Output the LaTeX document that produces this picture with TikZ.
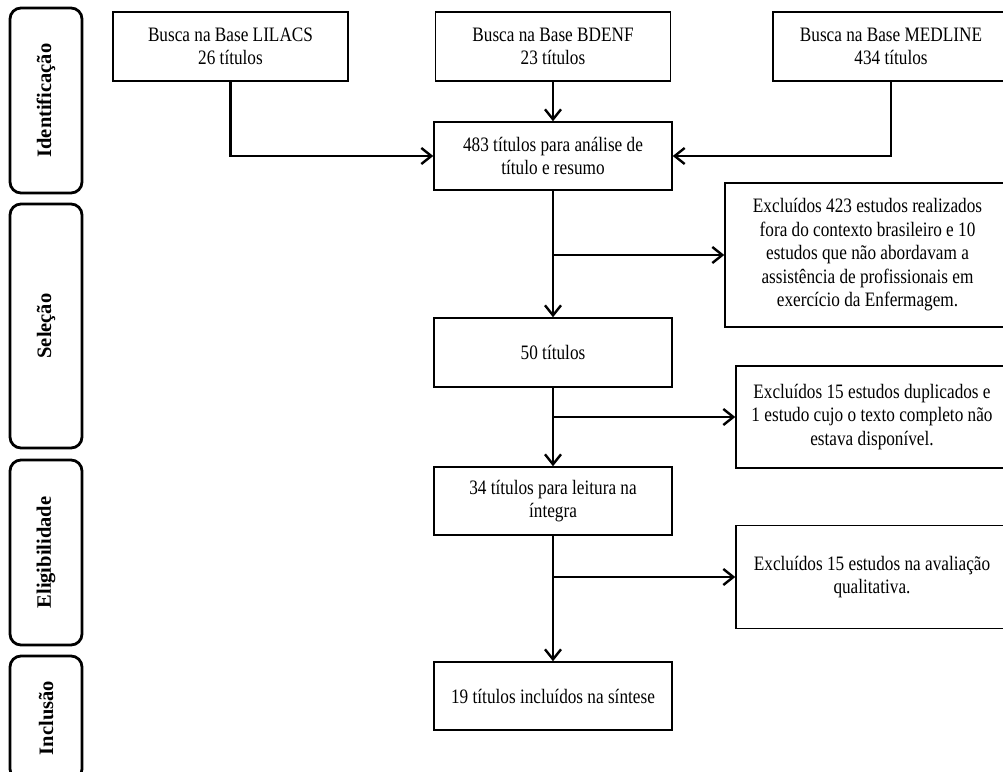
\documentclass[tikz,border=0pt]{standalone}
\usepackage{fontspec}
\setmainfont{Liberation Serif}[FakeStretch=0.84]
\newfontfamily\phasefont{Liberation Serif}
\usetikzlibrary{arrows.meta}

\begin{document}
\begin{tikzpicture}[x=1pt, y=-1pt,
  box/.style={draw, line width=1.5pt, align=center, inner sep=0pt, font=\fontsize{20.5}{23.5}\selectfont},
  phase/.style={draw, line width=2.8pt, rounded corners=11pt, rotate=90, minimum height=72pt, inner sep=0pt, font=\phasefont\bfseries\fontsize{20.5}{23}\selectfont},
  arr/.style={line width=2.4pt, -{Straight Barb[length=10pt,width=16pt,line width=2.4pt]}}]
\useasboundingbox (0,0) rectangle (1003,771);
\foreach \y/\h/\t/\n in {100.5/185/Identificação/fid, 326/244/Seleção/fsel, 552.5/185/Eligibilidade/fel, 718/124/Inclusão/finc} {
 \node[phase, minimum width=\h pt] (\n) at (46,\y) {\t};
}
\node[box, minimum width=235pt, minimum height=69pt] (lil) at (230.5,46.5) {Busca na Base LILACS\\26 títulos};
\node[box, minimum width=235pt, minimum height=69pt] (bde) at (553,46.5) {Busca na Base BDENF\\23 títulos};
\node[box, minimum width=236pt, minimum height=69pt] (med) at (891,46.5) {Busca na Base MEDLINE\\434 títulos};
\node[box, minimum width=238pt, minimum height=68pt] (n483) at (553,156) {483 títulos para análise de\\título e resumo};
\node[box, minimum width=285pt, minimum height=144pt] (ex1) at (867.5,255) {Excluídos 423 estudos realizados\\fora do contexto brasileiro e 10\\estudos que não abordavam a\\assistência de profissionais em\\exercício da Enfermagem.};
\node[box, minimum width=238pt, minimum height=69pt] (n50) at (553,352.5) {50 títulos};
\node[box, minimum width=272pt, minimum height=102pt] (ex2) at (872,417) {Excluídos 15 estudos duplicados e\\1 estudo cujo o texto completo não\\estava disponível.};
\node[box, minimum width=238pt, minimum height=68pt] (n34) at (553,501) {34 títulos para leitura na\\íntegra};
\node[box, minimum width=272pt, minimum height=103pt] (ex3) at (872,577) {Excluídos 15 estudos na avaliação\\qualitativa.};
\node[box, minimum width=238pt, minimum height=68pt] (n19) at (553,696) {19 títulos incluídos na síntese};
\draw[arr] (lil.south) |- (n483.west);
\draw[arr] (bde) -- (n483);
\draw[arr] (med.south) |- (n483.east);
\foreach \a/\b/\c in {n483/n50/ex1, n50/n34/ex2, n34/n19/ex3} {
 \draw[arr] (\a) -- (\b);
 \draw[arr] (\a.south |- \c.west) -- (\c.west);
}
\end{tikzpicture}
\end{document}
